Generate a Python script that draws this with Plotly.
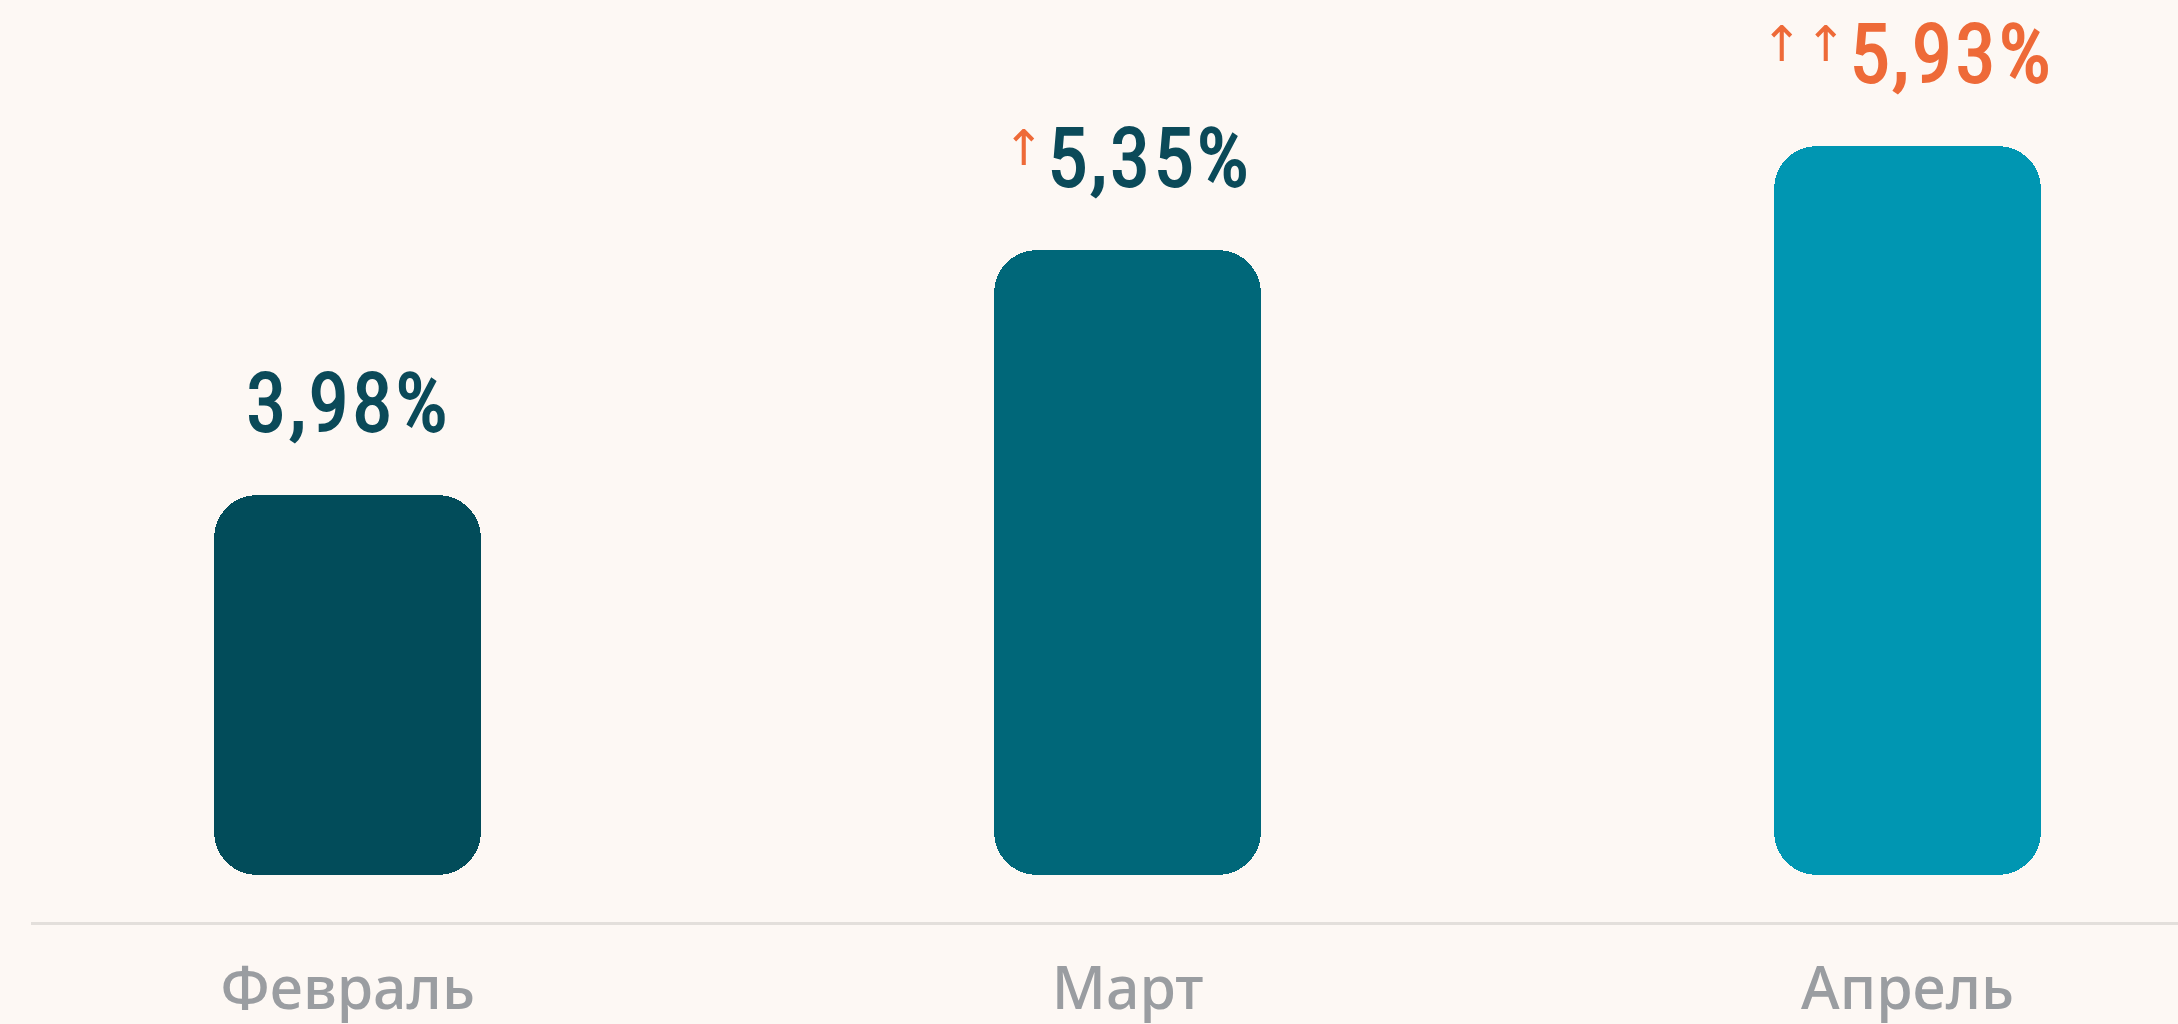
import plotly.graph_objects as go

# ---- data ----
months = ["Февраль", "Март", "Апрель"]
rates = [3.98, 5.35, 5.93]
up_arrows = [0, 1, 2]          # number of "↑" growth markers shown before the value
bar_colors = ["#024C5A", "#006779", "#0096B2"]
label_colors = ["#0B4A59", "#0B4A59", "#EE6A38"]

# ---- styling constants ----
BG = "#FDF8F4"
ORANGE = "#EE6A38"
AXIS_GRAY = "#9A9DA1"
BAR_BASE = 1.858        # visual floor of the bars (bars float above the axis line)
Y_RANGE = [1.595, 6.746]
X_RANGE = [-0.4058, 2.3468]
BAR_W = 0.3423
RADIUS = 43

xs = list(range(len(months)))

fig = go.Figure()
fig.add_trace(go.Bar(
    x=xs, y=[v - BAR_BASE for v in rates], base=[BAR_BASE] * len(rates),
    width=BAR_W, marker=dict(color=bar_colors, line=dict(width=0), cornerradius=RADIUS),
    hoverinfo="skip", showlegend=False,
))

VALUE_FONT = "Liberation Sans Narrow, Roboto Condensed, DejaVu Sans Condensed, Roboto, sans-serif"

for i, (v, n, c) in enumerate(zip(rates, up_arrows, label_colors)):
    val = f"{v:.2f}".replace(".", ",") + "%"
    txt = (f"<span style='stroke:{c};stroke-width:1.8px;letter-spacing:3px'>{val}</span>")
    if n:
        arrows = "↑" * n
        txt = (f"<span style='font-size:49px;color:{ORANGE};font-family:DejaVu Sans;"
               f"letter-spacing:3px;baseline-shift:21px'>{arrows}</span>" + txt)
    fig.add_annotation(
        x=i, y=v, xref="x", yref="y", text=txt, showarrow=False,
        xanchor="center", yanchor="bottom", yshift=42,
        font=dict(family=VALUE_FONT, size=82, color=c, weight=400),
    )

fig.update_layout(
    width=2178, height=1024,
    margin=dict(l=31, r=0, t=0, b=102, autoexpand=False),
    paper_bgcolor=BG, plot_bgcolor=BG,
    bargap=0,
    xaxis=dict(
        range=X_RANGE, tickvals=xs, ticktext=months,
        showgrid=False, zeroline=False, ticks="",
        showline=True, linecolor="#E3DFDB", linewidth=3,
        tickfont=dict(family="Noto Sans, Open Sans, sans-serif", size=59, color=AXIS_GRAY, weight=500),
        ticklabelstandoff=13, automargin=False, fixedrange=True,
    ),
    yaxis=dict(range=Y_RANGE, visible=False, showgrid=False, zeroline=False,
               automargin=False, fixedrange=True),
)

fig.write_html("out.html", config={"displayModeBar": False})
